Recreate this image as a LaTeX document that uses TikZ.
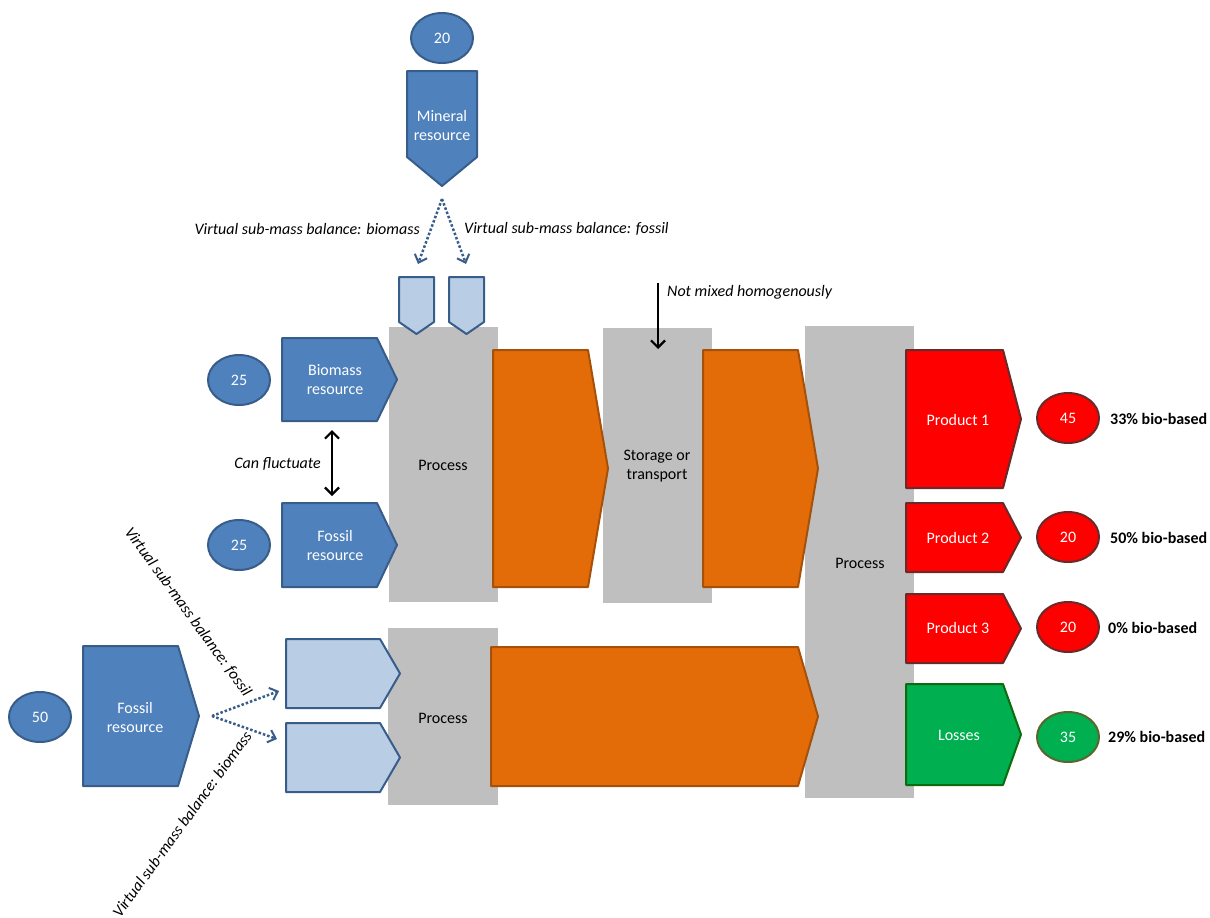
\documentclass[tikz,border=0pt]{standalone}
\usepackage{fontspec}
\setmainfont{Carlito}
\usetikzlibrary{arrows.meta,shapes.geometric}
\definecolor{bfill}{HTML}{4F81BD}
\definecolor{bline}{HTML}{385D8A}
\definecolor{lbfill}{HTML}{B9CDE5}
\definecolor{gfill}{HTML}{BFBFBF}
\definecolor{ofill}{HTML}{E36C09}
\definecolor{oline}{HTML}{A5510A}
\definecolor{rfill}{HTML}{FF0000}
\definecolor{rline}{HTML}{6B2A2A}
\definecolor{grfill}{HTML}{00B050}
\definecolor{grline}{HTML}{0E6B0E}
\definecolor{geline}{HTML}{5A6630}
\newcommand\pentR[6]{% style, left, top, flat, tip, bottom
  \draw[#1] (#2,#3) -- (#4,#3) -- (#5,{(#3+#6)/2}) -- (#4,#6) -- (#2,#6) -- cycle;}
\newcommand\pentD[6]{% style, left, top, right, sidebottom, tip
  \draw[#1] (#2,#3) -- (#4,#3) -- (#4,#5) -- ({(#2+#4)/2},#6) -- (#2,#5) -- cycle;}
\tikzset{
  base/.style={font=\fontsize{16}{19}\selectfont},
  blueshape/.style={fill=bfill,draw=bline,line width=2pt,line join=round},
  lblueshape/.style={fill=lbfill,draw=bline,line width=2pt,line join=round},
  orangeshape/.style={fill=ofill,draw=oline,line width=2pt,line join=round},
  redshape/.style={fill=rfill,draw=rline,line width=2pt,line join=round},
  greenshape/.style={fill=grfill,draw=grline,line width=2pt,line join=round},
  greybox/.style={fill=gfill,draw=none},
  wtext/.style={base,text=white,align=center},
  btext/.style={base,text=black,align=center},
  itext/.style={base,font=\fontsize{16}{19}\selectfont\itshape,inner sep=0pt},
  bbtext/.style={base,font=\fontsize{16}{19}\selectfont\bfseries,inner sep=0pt,anchor=west},
  ell/.style={ellipse,minimum width=62pt,minimum height=50pt,inner sep=0pt,line width=2pt,base,text=white},
  dotarrow/.style={draw=bline,line width=2.5pt,dotted,-{Straight Barb[length=7pt,width=13pt,line width=2pt]}},
  blkarrow/.style={draw=black,line width=2pt,-{Straight Barb[length=7pt,width=14pt,line width=2.2pt]}},
}
\begin{document}
\begin{tikzpicture}[x=1pt,y=-1pt]
\useasboundingbox (0,0) rectangle (1210,918);
% grey process boxes
\fill[greybox] (389,327) rectangle (498,602);
\fill[greybox] (603,328) rectangle (712,603);
\fill[greybox] (805,326) rectangle (914,798);
\fill[greybox] (388,628) rectangle (498,805);
% mineral
\node[ell,fill=bfill,draw=bline] (e20m) at (442,38) {20};
\pentD{blueshape}{407}{71}{477}{157}{186}
\node[wtext] (mineral) at (442,126) {Mineral\\resource};
% small chevrons
\pentD{lblueshape}{399}{277}{434}{322}{334}
\pentD{lblueshape}{449}{277}{484}{322}{334}
\coordinate (vtop) at (442,199);
\coordinate (vl) at (418,264);
\coordinate (vr) at (466,264);
\draw[dotarrow] (vtop) -- (vl);
\draw[dotarrow] (vtop) -- (vr);
\node[itext,anchor=east] (vbio) at (420,229) {Virtual sub-mass balance: biomass};
\node[itext,anchor=west] (vfos) at (464,229) {Virtual sub-mass balance: fossil};
% biomass / fossil inputs
\node[ell,fill=bfill,draw=bline] (e25a) at (239,380) {25};
\node[ell,fill=bfill,draw=bline] (e25b) at (239,545) {25};
\pentR{blueshape}{282}{338}{377}{397}{421}
\node[wtext] (biomass) at (335,380) {Biomass\\resource};
\pentR{blueshape}{282}{503}{377}{397}{587}
\node[wtext] (fossil) at (335,545) {Fossil\\resource};
\coordinate (fa) at (332,430);
\coordinate (fb) at (332,496);
\draw[blkarrow,{Straight Barb[length=7pt,width=14pt,line width=2.2pt]}-{Straight Barb[length=7pt,width=14pt,line width=2.2pt]}] (fa) -- (fb);
\node[itext,anchor=east] (canfl) at (321,464) {Can fluctuate};
% process texts
\node[btext] (proc1) at (443,465) {Process};
\node[btext] (stor) at (657,466) {Storage or\\transport};
\node[btext] (proc3) at (860,563) {Process};
\node[btext] (proc2) at (443,718) {Process};
% not mixed
\coordinate (na) at (658,283);
\coordinate (nb) at (658,349);
\draw[blkarrow] (na) -- (nb);
\node[itext,anchor=west] (notmixed) at (667,292) {Not mixed homogenously};
% orange flows
\pentR{orangeshape}{493}{350}{588}{608}{587}
\pentR{orangeshape}{703}{350}{798}{818}{587}
\pentR{orangeshape}{491}{647}{798}{818}{786}
% outputs
\pentR{redshape}{906}{350}{1003}{1021}{488}
\node[wtext] (p1) at (958,420) {Product 1};
\pentR{redshape}{906}{503}{1003}{1021}{572}
\node[wtext] (p2) at (958,538) {Product 2};
\pentR{redshape}{906}{594}{1003}{1021}{663}
\node[wtext] (p3) at (958,628) {Product 3};
\pentR{greenshape}{906}{684}{1003}{1021}{785}
\node[wtext] (loss) at (959,735) {Losses};
\node[ell,fill=rfill,draw=rline] (e45) at (1068,418) {45};
\node[ell,fill=rfill,draw=rline] (e20a) at (1068,537) {20};
\node[ell,fill=rfill,draw=rline] (e20b) at (1068,627) {20};
\node[ell,fill=grfill,draw=geline] (e35) at (1068,737) {35};
\node[bbtext] (b33) at (1110,419) {33\% bio-based};
\node[bbtext] (b50) at (1110,538) {50\% bio-based};
\node[bbtext] (b0) at (1108,628) {0\% bio-based};
\node[bbtext] (b29) at (1108,737) {29\% bio-based};
% lower fossil
\node[ell,fill=bfill,draw=bline] (e50) at (40,717) {50};
\pentR{blueshape}{83}{646}{178}{199}{786}
\node[wtext] (fossil2) at (135,717) {Fossil\\resource};
\pentR{lblueshape}{286}{639}{380}{400}{708}
\pentR{lblueshape}{286}{723}{380}{400}{792}
\coordinate (ls) at (212,716);
\coordinate (lu) at (279,691);
\coordinate (ld) at (277,739);
\draw[dotarrow] (ls) -- (lu);
\draw[dotarrow] (ls) -- (ld);
\node[itext,rotate=-54] (rfos) at (188,612) {Virtual sub-mass balance: fossil};
\node[itext,rotate=54] (rbio) at (182,824) {Virtual sub-mass balance: biomass};
\end{tikzpicture}
\end{document}
